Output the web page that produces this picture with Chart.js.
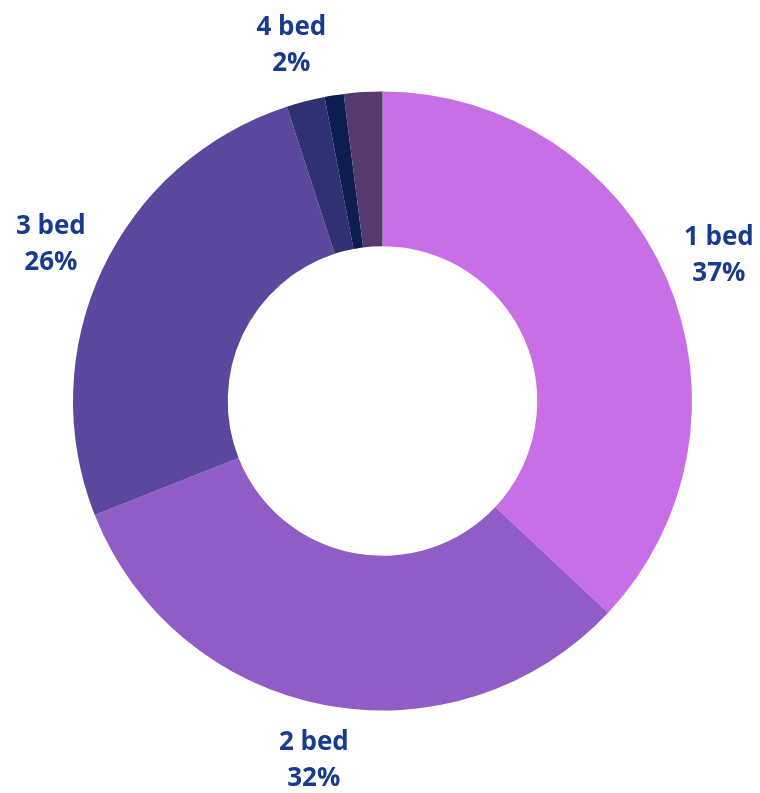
<!DOCTYPE html>
<html>
<head>
<meta charset="utf-8">
<script src="https://cdn.jsdelivr.net/npm/chart.js@4/dist/chart.umd.min.js"></script>
<style>
  html, body { margin: 0; padding: 0; background: #fff; }
  #wrap { width: 760px; height: 793px; }
</style>
</head>
<body>
<div id="wrap"><canvas id="chartBeds"></canvas></div>
<script>
var labels = ['1 bed', '2 bed', '3 bed', '4 bed', '5 bed', 'Other'];
var values = [37, 32, 26, 2, 1, 2];
var shownLabels = [true, true, true, true, false, false];
var colors = ["#C86FE8", "#8F5DC5", "#5C479F", "#2F3173", "#0E1D50", "#563A6E"];

// writes "name / pct%" outside each slice, along its mid angle
var outsideLabels = {
    id: 'outsideLabels',
    afterDatasetsDraw: function (chart) {
        var c = chart.ctx;
        var meta = chart.getDatasetMeta(0);
        c.save();
        c.fillStyle = '#173B8F';
        c.font = 'bold 26px "Open Sans"';
        c.textAlign = 'center';
        c.textBaseline = 'middle';
        meta.data.forEach(function (arc, i) {
            if (!shownLabels[i]) return;
            var mid = (arc.startAngle + arc.endAngle) / 2;
            var r = arc.outerRadius + 57;
            var x = arc.x + Math.cos(mid) * r;
            var y = arc.y + Math.sin(mid) * r;
            c.fillText(labels[i], x, y - 18);
            c.fillText(values[i] + '%', x, y + 18);
        });
        c.restore();
    }
};

var myChart = new Chart(document.getElementById('chartBeds'), {
    type: 'doughnut',
    data: {
        labels: labels,
        datasets: [{
            data: values,
            backgroundColor: colors,
            borderWidth: 0
        }]
    },
    options: {
        responsive: true,
        maintainAspectRatio: false,
        animation: false,
        cutout: '50%',
        layout: { padding: { top: 91, bottom: 82, left: 73, right: 68 } },
        plugins: {
            legend: { display: false },
            tooltip: { enabled: false }
        }
    },
    plugins: [outsideLabels]
});
</script>
</body>
</html>
